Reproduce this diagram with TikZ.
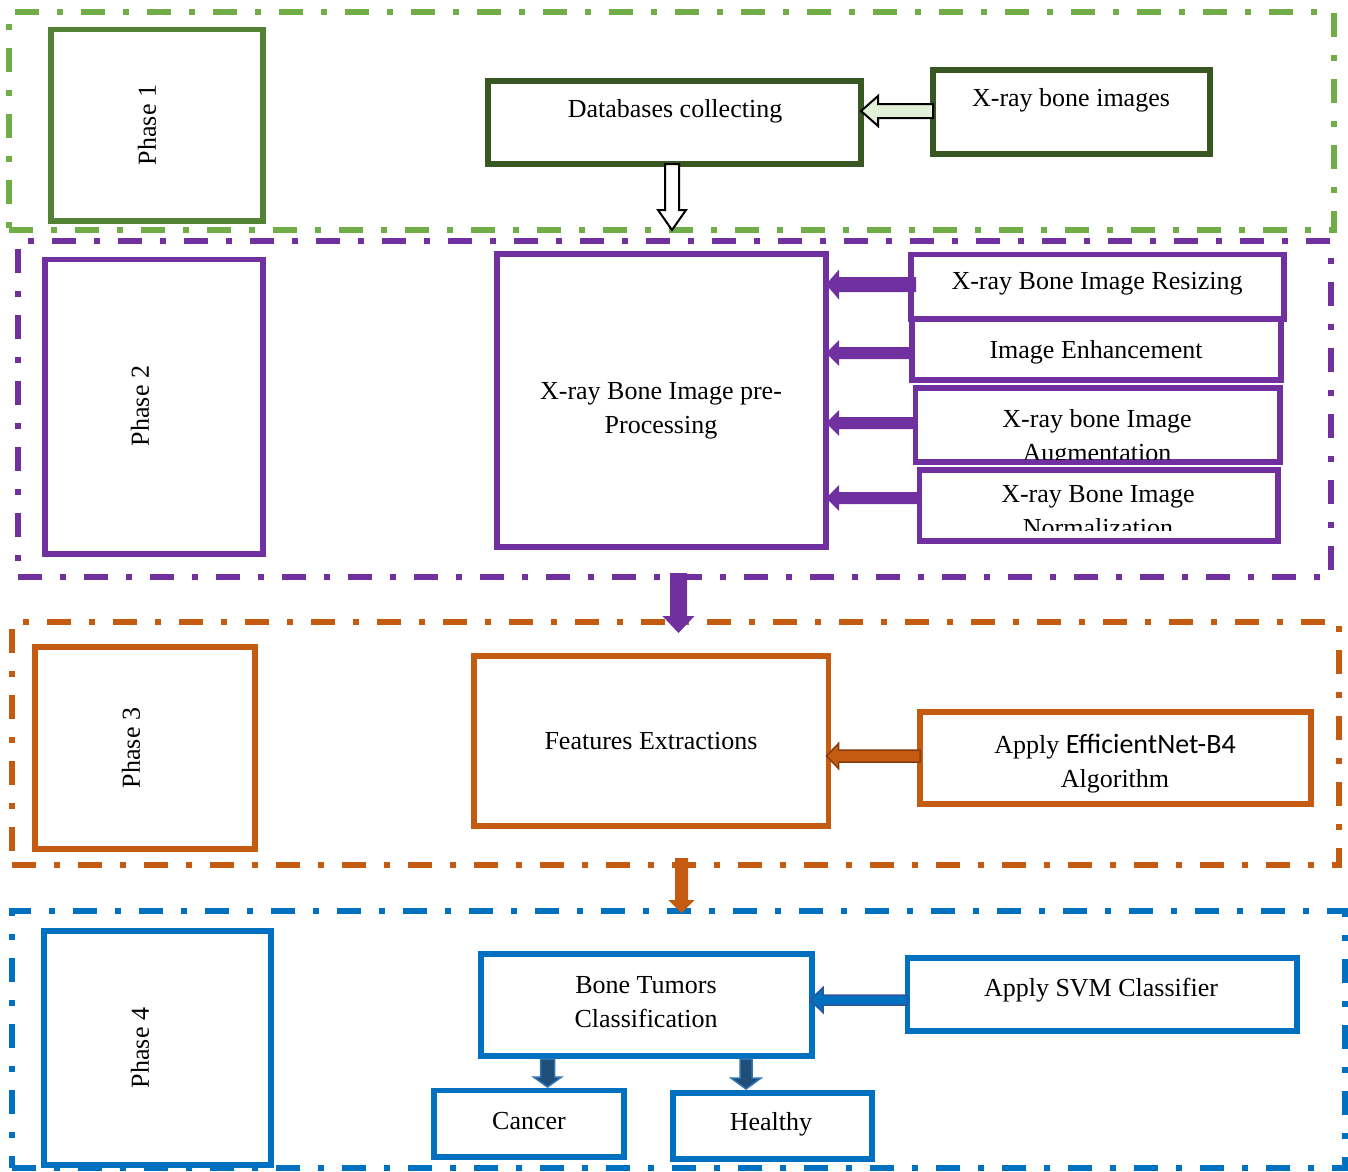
\documentclass[tikz,border=0pt]{standalone}
\usepackage{fontspec}
\setmainfont{Liberation Serif}
\newfontfamily\calib{Carlito}
\usetikzlibrary{calc}
\definecolor{gfr}{HTML}{70AD47}
\definecolor{gph}{HTML}{548235}
\definecolor{gdk}{HTML}{385723}
\definecolor{lgr}{HTML}{E2F0D9}
\definecolor{pur}{HTML}{7030A0}
\definecolor{org}{HTML}{C55A11}
\definecolor{odk}{HTML}{843C0C}
\definecolor{blu}{HTML}{0070C0}
\definecolor{bdk}{HTML}{2F5597}
\definecolor{bnv}{HTML}{1F4E79}
\definecolor{blt}{HTML}{2E75B6}
\tikzset{
  framebox/.style={draw, line width=6pt, dash pattern=on 24pt off 18pt on 6pt off 18pt, inner sep=0pt, outer sep=0pt},
  bx/.style={draw, line width=5.5pt, inner sep=0pt, outer sep=0pt},
  txt/.style={font=\fontsize{26}{34}\selectfont, align=center, inner sep=0pt},
}
% name, style, x1, y1, x2, y2
\newcommand\mkbox[6]{\node[#2, minimum width={#5-#3}, minimum height={#6-#4}] (#1) at ({(#3+#5)/2},{(#4+#6)/2}) {};}
% left block arrow: style, tail, tip, shaft half, head half, head length
\newcommand\larrow[6]{\path[#1] let \p1=#2, \p2=#3 in
  ({\x1},{\y2+#4pt}) -- ({\x2+#6pt},{\y2+#4pt}) -- ({\x2+#6pt},{\y2+#5pt}) -- (\x2,\y2)
  -- ({\x2+#6pt},{\y2-#5pt}) -- ({\x2+#6pt},{\y2-#4pt}) -- ({\x1},{\y2-#4pt}) -- cycle;}
% down block arrow: style, tail, tip, shaft half, head half, head length
\newcommand\darrow[6]{\path[#1] let \p1=#2, \p2=#3 in
  ({\x2-#4pt},{\y1}) -- ({\x2-#4pt},{\y2+#6pt}) -- ({\x2-#5pt},{\y2+#6pt}) -- (\x2,\y2)
  -- ({\x2+#5pt},{\y2+#6pt}) -- ({\x2+#4pt},{\y2+#6pt}) -- ({\x2+#4pt},{\y1}) -- cycle;}
\begin{document}
\begin{tikzpicture}[x=1pt,y=-1pt]
\useasboundingbox[fill=white] (0,0) rectangle (1348,1171);
% frames
\mkbox{f1}{framebox,draw=gfr}{9}{12}{1334}{230}
\mkbox{f2}{framebox,draw=pur}{18}{241}{1331}{577}
\mkbox{f3}{framebox,draw=org}{12}{622}{1339}{865}
\mkbox{f4}{framebox,draw=blu}{12}{911}{1345}{1168}
% phase boxes
\mkbox{p1}{bx,draw=gph}{51}{29.5}{263}{221}
\mkbox{p2}{bx,draw=pur}{45}{259.5}{263}{554}
\mkbox{p3}{bx,draw=org}{35}{647}{255}{849}
\mkbox{p4}{bx,draw=blu}{44}{931}{271}{1165}
% phase 1 boxes
\mkbox{db}{bx,draw=gdk}{488}{81}{861}{164}
\mkbox{xr}{bx,draw=gdk}{933}{70}{1210}{154}
% phase 2 boxes
\mkbox{pre}{bx,draw=pur}{497}{254}{826}{547}
\mkbox{rsz}{bx,draw=pur}{911}{254.5}{1284}{319}
\mkbox{enh}{bx,draw=pur}{912}{319}{1281}{380}
\mkbox{aug}{bx,draw=pur}{915.5}{388}{1280}{462}
\mkbox{nrm}{bx,draw=pur}{919.5}{470}{1278}{541}
% phase 3 boxes
\mkbox{feat}{bx,draw=org}{474}{656}{828.5}{826}
\mkbox{eff}{bx,draw=org}{920}{712}{1311}{804}
% phase 4 boxes
\mkbox{cls}{bx,draw=blu}{481}{954}{812}{1056}
\mkbox{svm}{bx,draw=blu}{907.5}{958}{1297}{1031}
\mkbox{can}{bx,draw=blu}{434}{1090.5}{624}{1157}
\mkbox{hea}{bx,draw=blu}{673}{1093}{872}{1159}
% arrow end coordinates
\coordinate (a0) at (xr.west |- 0,111);
\coordinate (d0) at (672,164);
\coordinate (a1) at (916,284.5);
\coordinate (a2) at (912,353);
\coordinate (a3) at (916,423);
\coordinate (a4) at (919.5,498);
\coordinate (d1) at (678.5,573);
\coordinate (d1t) at (678.5,633);
\coordinate (a5) at (920,756);
\coordinate (d2) at (681.5,858);
\coordinate (d2t) at (681.5,913);
\coordinate (a6) at (907.5,1000);
\coordinate (d3) at (547.5,1059);
\coordinate (d4) at (746,1059);
% arrows
\larrow{draw=black,line width=2pt,fill=lgr}{(a0)}{(db.east |- a0)}{7}{15}{17}
\darrow{draw=black,line width=2pt,fill=white}{(d0)}{(d0 |- f1.south)}{7}{14}{20}
\larrow{fill=pur}{(a1)}{(pre.east |- a1)}{7.5}{15}{13}
\larrow{fill=pur}{(a2)}{(pre.east |- a2)}{6}{13}{13}
\larrow{fill=pur}{(a3)}{(pre.east |- a3)}{6}{13}{13}
\larrow{fill=pur}{(a4)}{(pre.east |- a4)}{6}{13}{13}
\darrow{fill=pur}{(d1)}{(d1t)}{8.5}{16}{17}
\larrow{draw=odk,line width=1.5pt,fill=org}{(a5)}{($(feat.east |- a5)+(-2,0)$)}{6}{12.5}{12}
\darrow{fill=org}{(d2)}{(d2t)}{6.5}{13}{13}
\larrow{draw=bdk,line width=1.5pt,fill=blu}{(a6)}{($(cls.east |- a6)+(-2,0)$)}{5}{12.5}{13}
\darrow{draw=blt,line width=1.5pt,fill=bnv}{(d3)}{($(d3 |- can.north)+(0,-3.5)$)}{7}{14}{10}
\darrow{draw=blt,line width=1.5pt,fill=bnv}{(d4)}{($(d4 |- hea.north)+(0,-4)$)}{6}{15}{11}
% texts
\node[txt,rotate=90] (p1t) at (147,125) {Phase 1};
\node[txt,rotate=90] (p2t) at (140,406) {Phase 2};
\node[txt,rotate=90] (p3t) at (131,748) {Phase 3};
\node[txt,rotate=90] (p4t) at (140,1048) {Phase 4};
\node[txt] (dbt) at (675,111) {Databases collecting};
\node[txt] (xrt) at (1071,100) {X-ray bone images};
\node[txt] (pret) at (661,411) {X-ray Bone Image pre-\\Processing};
\node[txt] (rszt) at (1097,284) {X-ray Bone Image Resizing};
\node[txt] (enht) at (1096,352) {Image Enhancement};
\begin{scope}
\clip ($(aug.north west)+(2.75,2.75)$) rectangle ($(aug.south east)+(-2.75,-2.75)$);
\node[txt] (augt) at (1097,438) {X-ray bone Image\\Augmentation};
\end{scope}
\begin{scope}
\clip ($(nrm.north west)+(2.75,2.75)$) rectangle ($(nrm.south east)+(-2.75,-11)$);
\node[txt] (nrmt) at (1098,511) {X-ray Bone Image\\Normalization};
\end{scope}
\node[txt] (featt) at (651,741) {Features Extractions};
\node[txt] (efft) at (1115,764) {Apply {\calib\fontsize{28}{34}\selectfont EfficientNet-B4}\\Algorithm};
\node[txt] (clst) at (646,1002) {Bone Tumors\\Classification};
\node[txt] (svmt) at (1101,990) {Apply SVM Classifier};
\node[txt] (cant) at (529,1121) {Cancer};
\node[txt] (heat) at (771,1124) {Healthy};
\end{tikzpicture}
\end{document}
